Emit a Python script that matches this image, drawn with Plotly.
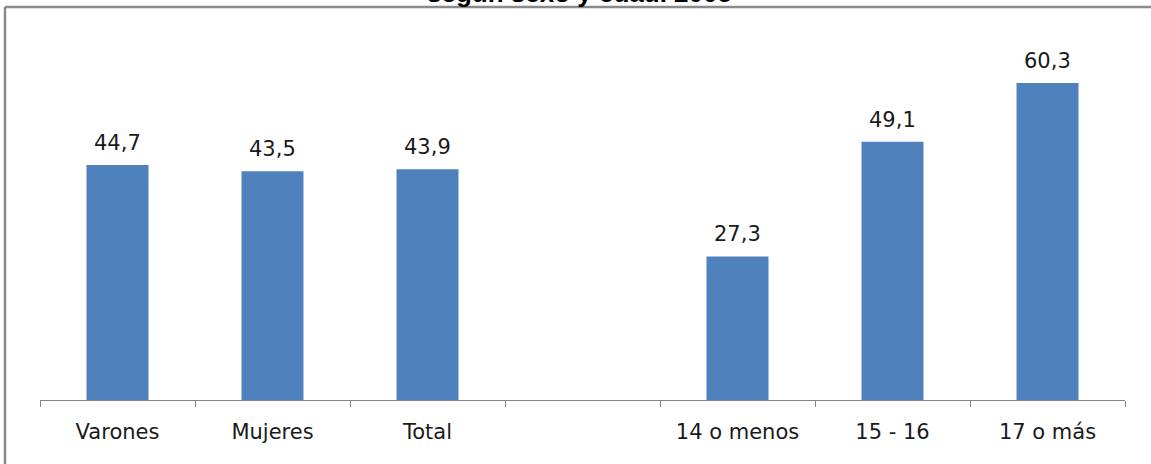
import plotly.graph_objects as go

# Data
categories = ["Varones", "Mujeres", "Total", " ", "14 o menos", "15 - 16", "17 o más"]
values = [44.7, 43.5, 43.9, None, 27.3, 49.1, 60.3]
title_text = "según sexo y edad. 2005"

BAR_COLOR = "#4F81BD"
FONT = "DejaVu Sans"
FS = 21

fig = go.Figure()
fig.add_trace(go.Bar(
    x=categories, y=values,
    marker=dict(color=BAR_COLOR, line=dict(width=0)),
    hoverinfo="skip",
))

# value labels
for c, v in zip(categories, values):
    if v is None:
        continue
    fig.add_annotation(
        x=c, y=v, xref="x", yref="y",
        text=f"{v:.1f}".replace(".", ","),
        showarrow=False, yanchor="bottom", yshift=8,
        font=dict(family=FONT, size=FS, color="#1a1a1a"),
    )

# title (mostly cut off at top)
fig.add_annotation(
    x=0.497, y=1.0598, xref="paper", yref="paper",
    text=f"<b>{title_text}</b>", showarrow=False,
    xanchor="center", yanchor="bottom",
    font=dict(family="Liberation Sans", size=26, color="#000000"),
)

# frame (top and left edges visible)
x0 = -0.03226
ytop = 1.0679
fig.add_shape(type="line", xref="paper", yref="paper",
              x0=x0, x1=1.04, y0=ytop, y1=ytop,
              line=dict(color="#8a8a8a", width=2.5))
fig.add_shape(type="line", xref="paper", yref="paper",
              x0=x0, x1=x0, y0=-0.3, y1=ytop,
              line=dict(color="#8a8a8a", width=2.5))

fig.update_layout(
    width=1151, height=464,
    margin=dict(l=40, r=26, t=32, b=64),
    paper_bgcolor="white", plot_bgcolor="white",
    bargap=0.6,
    showlegend=False,
    font=dict(family=FONT, size=FS, color="#1a1a1a"),
    xaxis=dict(
        type="category", range=[-0.5, 6.5],
        showline=True, linecolor="#868686", linewidth=1,
        ticks="outside", tickson="boundaries", ticklen=6,
        tickcolor="#868686", tickwidth=1,
        showgrid=False, zeroline=False,
        tickfont=dict(family=FONT, size=FS, color="#1a1a1a"),
        ticklabelstandoff=13,
        fixedrange=True,
    ),
    yaxis=dict(
        range=[0, 70], visible=False, showgrid=False, zeroline=False,
        fixedrange=True,
    ),
)

fig.write_html(
    "out.html",
    config={"displayModeBar": False},
    post_script="document.body.style.margin='0';document.body.style.overflow='hidden';",
)
